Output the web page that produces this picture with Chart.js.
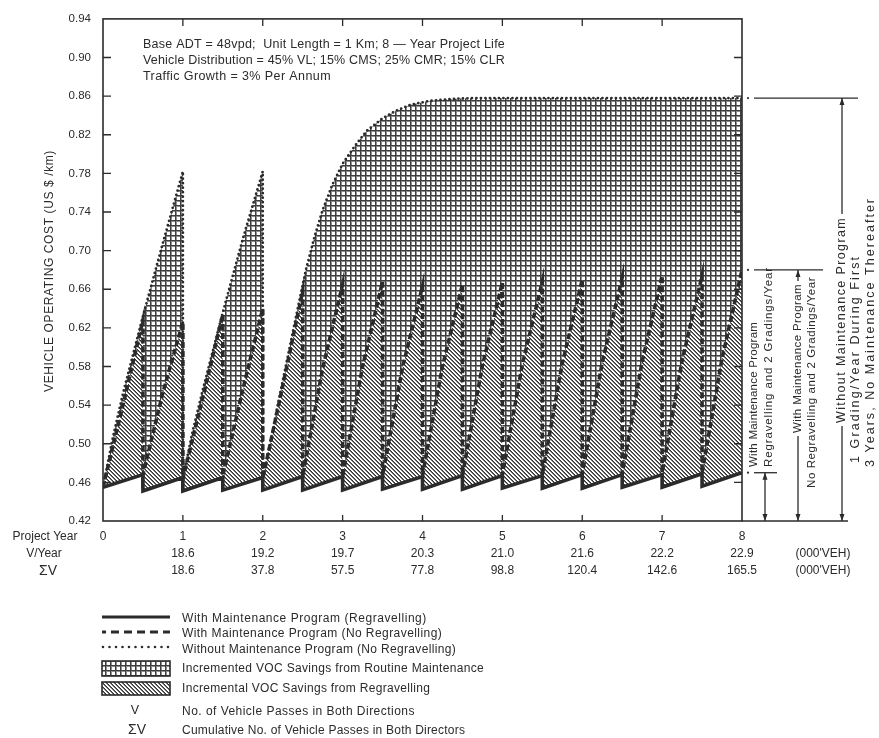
<!DOCTYPE html>
<html><head><meta charset="utf-8">
<script src="https://cdn.jsdelivr.net/npm/chart.js@4.4.1/dist/chart.umd.min.js"></script>
<style>html,body{margin:0;padding:0;background:#fff;}canvas{display:block;}</style>
</head><body>
<canvas id="c" width="879" height="738"></canvas>
<script>
// ---------------- DATA ----------------
const projectYears = [0, 1, 2, 3, 4, 5, 6, 7, 8];
const vehiclesPerYear = [null, 18.6, 19.2, 19.7, 20.3, 21.0, 21.6, 22.2, 22.9];
const cumulativeVehicles = [null, 18.6, 37.8, 57.5, 77.8, 98.8, 120.4, 142.6, 165.5];
const costTicks = [0.42, 0.46, 0.50, 0.54, 0.58, 0.62, 0.66, 0.70, 0.74, 0.78, 0.82, 0.86, 0.90, 0.94];

// Without maintenance program (1 grading/year during first 3 years) - dotted
const noMaintYears = [0, 0.12, 0.25, 0.5, 0.75, 1.0, 1.0, 1.12, 1.25, 1.5, 1.75, 2.0, 2.0, 2.1, 2.2, 2.33, 2.45, 2.54, 2.65, 2.75, 2.87, 3.0, 3.15, 3.3, 3.5, 3.67, 3.85, 4.08, 4.35, 4.63, 8.0];
const noMaintCost  = [0.455, 0.505, 0.552, 0.632, 0.708, 0.782, 0.464, 0.512, 0.556, 0.636, 0.712, 0.782, 0.464, 0.503, 0.545, 0.597, 0.645, 0.680, 0.715, 0.742, 0.768, 0.790, 0.808, 0.824, 0.837, 0.845, 0.851, 0.855, 0.857, 0.858, 0.858];

// With maintenance program: 2 gradings / year
const gradingYears = [0, 0.5, 1, 1.5, 2, 2.5, 3, 3.5, 4, 4.5, 5, 5.5, 6, 6.5, 7, 7.5];
// No regravelling - dashed (after grading, quarter year later, just before next grading)
const noRegravAfterGrading  = [0.455, 0.468, 0.464, 0.467, 0.464, 0.466, 0.466, 0.467, 0.467, 0.467, 0.468, 0.468, 0.469, 0.469, 0.470, 0.470];
const noRegravQuarter       = [0.540, 0.553, 0.548, 0.556, 0.560, 0.578, 0.580, 0.579, 0.580, 0.581, 0.582, 0.583, 0.584, 0.585, 0.586, 0.588];
const noRegravBeforeGrading = [0.628, 0.626, 0.634, 0.640, 0.658, 0.665, 0.668, 0.663, 0.665, 0.667, 0.668, 0.670, 0.672, 0.674, 0.674, 0.680];
// Regravelling - solid
const regravAfterGrading  = [0.455, 0.451, 0.451, 0.452, 0.452, 0.452, 0.452, 0.453, 0.453, 0.453, 0.454, 0.454, 0.454, 0.455, 0.455, 0.456];
const regravBeforeGrading = [0.468, 0.465, 0.465, 0.465, 0.466, 0.466, 0.466, 0.466, 0.467, 0.467, 0.467, 0.468, 0.468, 0.468, 0.469, 0.470];

// ---------------- BUILD ----------------
const gradingInterval = 0.5;
const noMaintPts = noMaintYears.map((t, i) => ({x: t, y: noMaintCost[i]}));
const noRegravPts = [];
const regravPts = [];
gradingYears.forEach((t, i) => {
  noRegravPts.push({x: t, y: noRegravAfterGrading[i]});
  noRegravPts.push({x: t + gradingInterval / 2, y: noRegravQuarter[i]});
  noRegravPts.push({x: t + gradingInterval, y: noRegravBeforeGrading[i]});
  regravPts.push({x: t, y: regravAfterGrading[i]});
  regravPts.push({x: t + gradingInterval, y: regravBeforeGrading[i]});
});

const INK = '#2b2b2b';
const FONT = '"Liberation Sans", Arial, Helvetica, sans-serif';
const canvas = document.getElementById('c');
const mainCtx = canvas.getContext('2d');

function patternFrom(size, painter) {
  const c = document.createElement('canvas');
  c.width = size; c.height = size;
  const g = c.getContext('2d');
  g.fillStyle = '#fff'; g.fillRect(0, 0, size, size);
  painter(g);
  return mainCtx.createPattern(c, 'repeat');
}
const crossHatch = patternFrom(5, g => {
  g.fillStyle = '#8e8e8e'; g.fillRect(0, 1, 5, 1); g.fillRect(1, 0, 1, 5);
  g.fillStyle = '#3e3e3e'; g.fillRect(0, 0, 5, 1); g.fillRect(0, 0, 1, 5);
});
const diagHatch = patternFrom(4, g => {
  for (let i = 0; i < 4; i++) {
    g.fillStyle = '#333'; g.fillRect(i, i, 1, 1);
    g.fillStyle = '#707070'; g.fillRect(i, (i + 1) % 4, 1, 1);
  }
});

function spacedText(ctx, str, x, y, targetWidth) {
  ctx.save();
  const w = ctx.measureText(str).width;
  if ('letterSpacing' in ctx) ctx.letterSpacing = ((targetWidth - w) / str.length).toFixed(2) + 'px';
  ctx.fillText(str, x, y);
  ctx.restore();
}
function vText(ctx, str, cx, yStart, yEnd) {
  ctx.save();
  ctx.translate(cx, yStart);
  ctx.rotate(-Math.PI / 2);
  ctx.textAlign = 'left'; ctx.textBaseline = 'middle';
  spacedText(ctx, str, 0, 0, yStart - yEnd);
  ctx.restore();
}
function arrow(ctx, x, y, dir) {
  ctx.beginPath();
  ctx.moveTo(x, y);
  ctx.lineTo(x - 2.5, y - dir * 7);
  ctx.lineTo(x + 2.5, y - dir * 7);
  ctx.closePath();
  ctx.fill();
}

const decor = {
  id: 'decor',
  beforeDraw(chart) {
    const c = chart.ctx; c.save(); c.fillStyle = '#fff'; c.fillRect(0, 0, chart.width, chart.height); c.restore();
  },
  afterDraw(chart) {
    const {ctx, chartArea: a, scales: {x, y}} = chart;
    ctx.save();
    ctx.strokeStyle = INK; ctx.fillStyle = INK;
    // frame
    ctx.lineWidth = 1.6;
    ctx.strokeRect(a.left, a.top, a.right - a.left, a.bottom - a.top);
    ctx.beginPath(); ctx.moveTo(a.right, a.bottom); ctx.lineTo(848, a.bottom); ctx.stroke();
    // inner ticks
    ctx.lineWidth = 1.3;
    costTicks.forEach(v => {
      if (v === costTicks[0] || v === costTicks[costTicks.length - 1]) return;
      const py = y.getPixelForValue(v);
      ctx.beginPath();
      ctx.moveTo(a.left, py); ctx.lineTo(a.left + 8, py);
      ctx.moveTo(a.right - 8, py); ctx.lineTo(a.right, py);
      ctx.stroke();
    });
    projectYears.forEach(v => {
      if (v === projectYears[0] || v === projectYears[projectYears.length - 1]) return;
      const px = x.getPixelForValue(v);
      ctx.beginPath();
      ctx.moveTo(px, a.top); ctx.lineTo(px, a.top + 7);
      ctx.moveTo(px, a.bottom); ctx.lineTo(px, a.bottom - 6);
      ctx.stroke();
    });

    // top-left notes
    ctx.font = '12.5px ' + FONT;
    ctx.textAlign = 'left'; ctx.textBaseline = 'middle';
    spacedText(ctx, 'Base ADT = 48vpd;  Unit Length = 1 Km; 8 \u2014 Year Project Life', 143, 45, 362);
    spacedText(ctx, 'Vehicle Distribution = 45% VL; 15% CMS; 25% CMR; 15% CLR', 143, 61, 362);
    spacedText(ctx, 'Traffic Growth = 3% Per Annum', 143, 77, 188);

    // y axis title
    ctx.save();
    ctx.translate(50, 271); ctx.rotate(-Math.PI / 2);
    ctx.textAlign = 'center'; ctx.font = '12px ' + FONT;
    spacedText(ctx, 'VEHICLE OPERATING COST (US $ /km)', 0, 0, 242);
    ctx.restore();

    // row headers for x-axis table
    ctx.font = '12px ' + FONT;
    ctx.textAlign = 'center';
    ctx.fillText('Project Year', 45, 537);
    ctx.fillText('V/Year', 44, 554);
    ctx.font = '14px ' + FONT;
    ctx.fillText('\u03A3V', 48, 571);
    ctx.font = '12px ' + FONT;
    ctx.fillText("(000'VEH)", 823, 554);
    ctx.fillText("(000'VEH)", 823, 571);

    // right-hand brackets
    const yNoMaint = y.getPixelForValue(noMaintCost[noMaintCost.length - 1]);
    const yNoRegrav = y.getPixelForValue(noRegravBeforeGrading[noRegravBeforeGrading.length - 1]);
    const yRegrav = y.getPixelForValue(regravBeforeGrading[regravBeforeGrading.length - 1]);
    const yb = a.bottom;
    ctx.lineWidth = 1.3;
    const hline = (py, x2) => {
      ctx.beginPath(); ctx.arc(a.right + 6, py, 1.1, 0, Math.PI * 2); ctx.fill();
      ctx.beginPath(); ctx.moveTo(a.right + 12, py); ctx.lineTo(x2, py); ctx.stroke();
    };
    hline(yNoMaint, 858);
    hline(yNoRegrav, 823);
    hline(yRegrav, 777);
    const vline = (px, y1, y2) => { ctx.beginPath(); ctx.moveTo(px, y1); ctx.lineTo(px, y2); ctx.stroke(); };
    vline(765, yRegrav, yb); arrow(ctx, 765, yRegrav, -1); arrow(ctx, 765, yb, 1);
    vline(798, yNoRegrav, 281); vline(798, 436, yb); arrow(ctx, 798, yNoRegrav, -1); arrow(ctx, 798, yb, 1);
    vline(842, yNoMaint, 214); vline(842, 426, yb); arrow(ctx, 842, yNoMaint, -1); arrow(ctx, 842, yb, 1);

    ctx.font = '11.5px ' + FONT;
    vText(ctx, 'With Maintenance Program', 754, 467, 322);
    vText(ctx, 'Regravelling and 2 Gradings/Year', 769, 467, 267);
    vText(ctx, 'With Maintenance Program', 798, 433, 284);
    vText(ctx, 'No Regravelling and 2 Gradings/Year', 812, 488, 277);
    ctx.font = '12.5px ' + FONT;
    vText(ctx, 'Without Maintenance Program', 842, 423, 217);
    vText(ctx, '1 Grading/Year During First', 856, 463, 255);
    vText(ctx, '3 Years, No Maintenance Thereafter', 871, 467, 197);

    // legend
    const lx1 = 102, lx2 = 170, tx = 182;
    ctx.textAlign = 'left'; ctx.textBaseline = 'middle';
    ctx.font = '12px ' + FONT;
    ctx.lineWidth = 3.2; ctx.setLineDash([]);
    ctx.beginPath(); ctx.moveTo(lx1, 617); ctx.lineTo(lx2, 617); ctx.stroke();
    spacedText(ctx, 'With Maintenance Program (Regravelling)', tx, 619, 245);
    ctx.setLineDash([8, 5]); ctx.lineDashOffset = 4;
    ctx.beginPath(); ctx.moveTo(lx1, 632); ctx.lineTo(lx2, 632); ctx.stroke();
    spacedText(ctx, 'With Maintenance Program (No Regravelling)', tx, 634, 260);
    ctx.lineWidth = 2.6; ctx.lineCap = 'round'; ctx.setLineDash([0, 6.5]); ctx.lineDashOffset = 0;
    ctx.beginPath(); ctx.moveTo(lx1 + 1, 647); ctx.lineTo(lx2, 647); ctx.stroke();
    ctx.lineCap = 'butt'; ctx.setLineDash([]);
    spacedText(ctx, 'Without Maintenance Program (No Regravelling)', tx, 650, 274);
    ctx.lineWidth = 1.6;
    ctx.fillStyle = crossHatch; ctx.fillRect(lx1, 661, lx2 - lx1, 15);
    ctx.strokeRect(lx1, 661, lx2 - lx1, 15);
    ctx.fillStyle = diagHatch; ctx.fillRect(lx1, 682, lx2 - lx1, 13);
    ctx.strokeRect(lx1, 682, lx2 - lx1, 13);
    ctx.fillStyle = INK;
    spacedText(ctx, 'Incremented VOC Savings from Routine Maintenance', tx, 669, 302);
    spacedText(ctx, 'Incremental VOC Savings from Regravelling', tx, 689, 248);
    ctx.textAlign = 'center';
    ctx.font = '12.5px ' + FONT;
    ctx.fillText('V', 135, 711);
    ctx.font = '14px ' + FONT;
    ctx.fillText('\u03A3V', 137, 730);
    ctx.textAlign = 'left';
    ctx.font = '12px ' + FONT;
    spacedText(ctx, 'No. of Vehicle Passes in Both Directions', tx, 712, 233);
    spacedText(ctx, 'Cumulative No. of Vehicle Passes in Both Directors', tx, 731, 283);
    ctx.restore();
  }
};

new Chart(canvas, {
  type: 'line',
  data: {
    datasets: [
      { label: 'Without Maintenance Program (No Regravelling)', data: noMaintPts,
        borderColor: INK, borderWidth: 2.8, borderDash: [0, 4.5], borderCapStyle: 'round',
        fill: 1, backgroundColor: crossHatch },
      { label: 'With Maintenance Program (No Regravelling)', data: noRegravPts,
        borderColor: INK, borderWidth: 3.6, borderDash: [6, 3],
        fill: 2, backgroundColor: diagHatch },
      { label: 'With Maintenance Program (Regravelling)', data: regravPts,
        borderColor: INK, borderWidth: 3.6, fill: false }
    ]
  },
  options: {
    responsive: false, animation: false, devicePixelRatio: 1,
    layout: { padding: { left: 0, top: 16, right: 137, bottom: 157 } },
    elements: { point: { radius: 0, hoverRadius: 0 }, line: { tension: 0 } },
    plugins: { legend: { display: false }, tooltip: { enabled: false }, filler: { drawTime: 'beforeDatasetsDraw' } },
    events: [],
    scales: {
      x: {
        type: 'linear', min: 0, max: 8,
        afterBuildTicks: s => { s.ticks = projectYears.map(v => ({ value: v })); },
        afterFit: s => { s.height = 60; },
        grid: { display: false, drawTicks: false }, border: { display: false },
        ticks: {
          autoSkip: false, maxRotation: 0, padding: 7, color: INK,
          font: { family: FONT, size: 12, lineHeight: 1.42 },
          callback: v => {
            const i = projectYears.indexOf(v);
            return [String(v),
              vehiclesPerYear[i] == null ? '' : vehiclesPerYear[i].toFixed(1),
              cumulativeVehicles[i] == null ? '' : cumulativeVehicles[i].toFixed(1)];
          }
        }
      },
      y: {
        min: 0.42, max: 0.94,
        afterBuildTicks: s => { s.ticks = costTicks.map(v => ({ value: v })); },
        afterFit: s => { s.width = 103; },
        grid: { display: false, drawTicks: false }, border: { display: false },
        ticks: { padding: 12, color: INK, font: { family: FONT, size: 11.5 }, callback: v => v.toFixed(2) },
        title: { display: false }
      }
    }
  },
  plugins: [decor]
});
</script>
</body></html>
